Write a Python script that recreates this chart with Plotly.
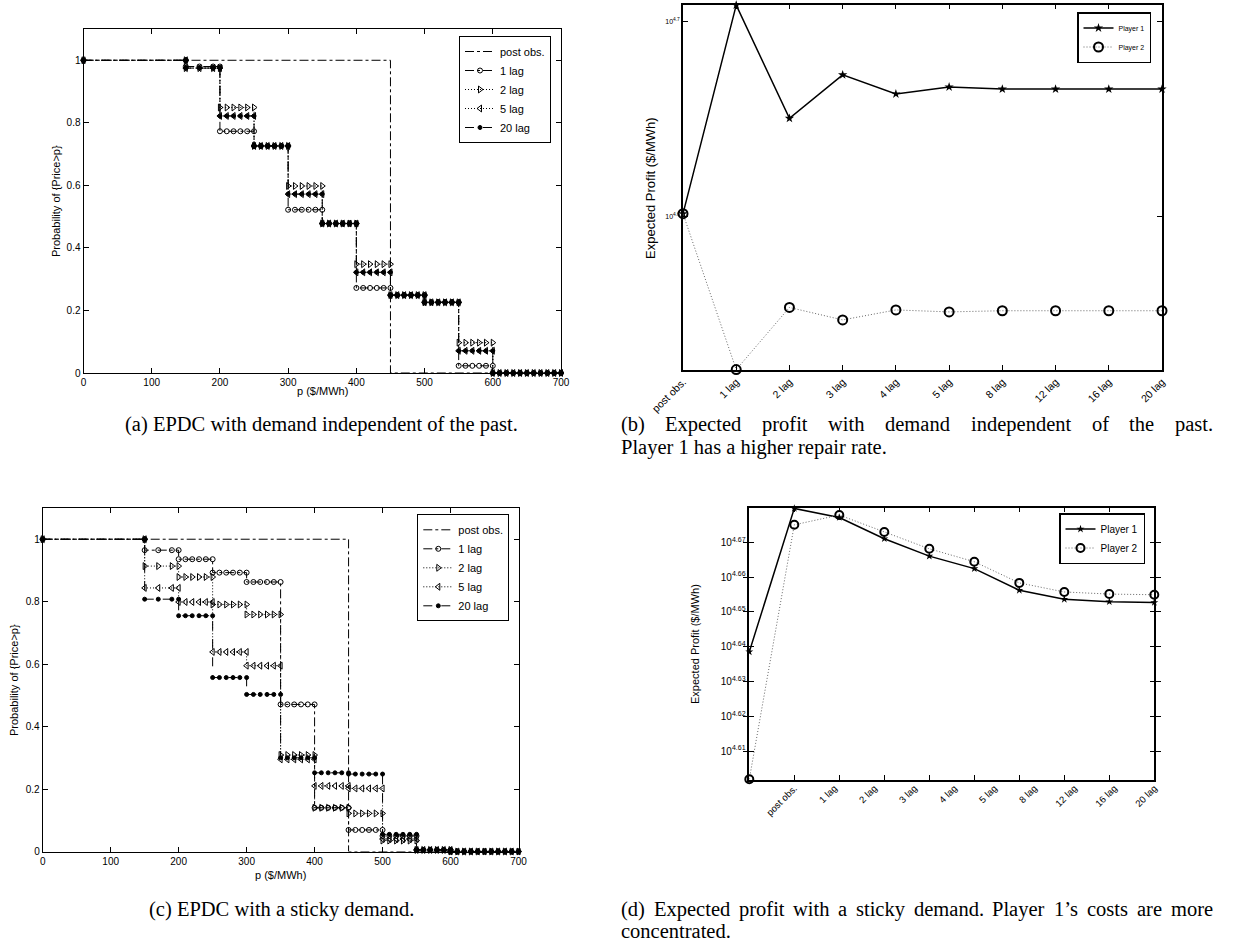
import plotly.graph_objects as go
import numpy as np

# ---------------- data ----------------
price_breaks = [0, 150, 200, 250, 300, 350, 400, 450, 500, 550, 600, 700]
series_names = ["1 lag", "2 lag", "5 lag", "20 lag"]

post_obs_breaks = [0, 450, 700]
post_obs_levels = [1, 0]

# panel (a): demand independent of the past (level on each price interval)
a_1lag = [1, 0.980, 0.773, 0.726, 0.522, 0.478, 0.272, 0.249, 0.226, 0.023, 0]
a_2lag = [1, 0.975, 0.849, 0.726, 0.598, 0.478, 0.348, 0.249, 0.226, 0.097, 0]
a_5lag = [1, 0.975, 0.822, 0.726, 0.572, 0.478, 0.322, 0.249, 0.226, 0.071, 0]
a_20lag = [1, 0.975, 0.822, 0.726, 0.572, 0.478, 0.322, 0.249, 0.226, 0.071, 0]

# panel (c): sticky demand
c_1lag = [1, 0.965, 0.936, 0.893, 0.863, 0.471, 0.140, 0.069, 0.050, 0.005, 0]
c_2lag = [1, 0.914, 0.879, 0.791, 0.759, 0.309, 0.140, 0.122, 0.035, 0.005, 0]
c_5lag = [1, 0.844, 0.799, 0.639, 0.595, 0.295, 0.210, 0.202, 0.040, 0.005, 0]
c_20lag = [1, 0.808, 0.755, 0.557, 0.503, 0.300, 0.252, 0.248, 0.055, 0.005, 0]

lag_labels = ["post obs.", "1 lag", "2 lag", "3 lag", "4 lag", "5 lag",
              "8 lag", "12 lag", "16 lag", "20 lag"]

# panel (b): expected profit ($/MWh), demand independent of the past
b_player1 = [39949, 51109, 44710, 47065, 46015, 46399, 46281, 46281, 46281, 46281]
b_player2 = [39949, 33228, 35760, 35237, 35654, 35572, 35621, 35621, 35621, 35621]
b_ticks_exp = [4.6, 4.7]

# panel (d): expected profit ($/MWh), sticky demand
d_player1 = [43501, 47831, 47545, 46882, 46345, 45963, 45311, 45041, 44968, 44947]
d_player2 = [39985, 47315, 47622, 47088, 46570, 46174, 45531, 45259, 45196, 45176]
d_ticks_exp = [4.61, 4.62, 4.63, 4.64, 4.65, 4.66, 4.67]

captions = {
    "a": "(a) EPDC with demand independent of the past.",
    "b1": "(b) Expected profit with demand independent of the past.",
    "b2": "Player 1 has a higher repair rate.",
    "c": "(c) EPDC with a sticky demand.",
    "d1": "(d) Expected profit with a sticky demand. Player 1\u2019s costs are more",
    "d2": "concentrated.",
}

# ---------------- helpers ----------------
W, H = 1233, 944


def px_x(v):
    return v / W


def px_y(v):
    return 1 - v / H


def interval_points(lo, hi):
    if lo == 0 and hi == 150:
        return [0, 150]
    if lo == 150 and hi == 200:
        return [150, 170, 190, 200]
    return list(np.arange(lo, hi + 0.1, 10))


def step_xy(breaks, levels):
    xs, ys = [], []
    for i, lev in enumerate(levels):
        pts = interval_points(breaks[i], breaks[i + 1])
        xs += pts
        ys += [lev] * len(pts)
    return xs, ys


def post_xy(breaks, levels):
    xs, ys = [], []
    for i, lev in enumerate(levels):
        xs += [breaks[i], breaks[i + 1]]
        ys += [lev, lev]
    return xs, ys


FONT = "Liberation Sans, Arial, sans-serif"
SERIF = "Liberation Serif, Times New Roman, serif"
DOT = "1px,2px"

styles = {
    "1 lag": dict(dash="dashdot", symbol="circle-open", size=5),
    "2 lag": dict(dash=DOT, symbol="triangle-right-open", size=6),
    "5 lag": dict(dash=DOT, symbol="triangle-left-open", size=6),
    "20 lag": dict(dash="dash", symbol="circle", size=4),
}

fig = go.Figure()


def add_epdc(xref, yref, legend, data):
    px_, py_ = post_xy(post_obs_breaks, post_obs_levels)
    fig.add_trace(go.Scatter(x=px_, y=py_, mode="lines", name="post obs.",
                             line=dict(color="black", width=1, dash="dashdot"),
                             xaxis=xref, yaxis=yref, legend=legend, cliponaxis=False))
    for name, lv in zip(series_names, data):
        st = styles[name]
        xs, ys = step_xy(price_breaks, lv)
        fig.add_trace(go.Scatter(
            x=xs, y=ys, mode="lines+markers", name=name,
            line=dict(color="black", width=1, dash=st["dash"]),
            marker=dict(symbol=st["symbol"], size=st["size"], color="black",
                        line=dict(color="black", width=1)),
            xaxis=xref, yaxis=yref, legend=legend, cliponaxis=False))


add_epdc("x", "y", "legend", [a_1lag, a_2lag, a_5lag, a_20lag])
add_epdc("x3", "y3", "legend3", [c_1lag, c_2lag, c_5lag, c_20lag])


def add_profit(xref, yref, legend, p1, p2, msize2, p1size):
    xs = list(range(len(p1)))
    fig.add_trace(go.Scatter(
        x=xs, y=p1, mode="lines+markers", name="Player 1",
        line=dict(color="black", width=1.5),
        marker=dict(symbol="star", size=p1size, color="black"),
        xaxis=xref, yaxis=yref, legend=legend, cliponaxis=False))
    fig.add_trace(go.Scatter(
        x=xs, y=p2, mode="lines+markers", name="Player 2",
        line=dict(color="#666666", width=1, dash=DOT),
        marker=dict(symbol="circle-open", size=msize2, color="black",
                    line=dict(color="black", width=2)),
        xaxis=xref, yaxis=yref, legend=legend, cliponaxis=False))


add_profit("x2", "y2", "legend2", b_player1, b_player2, 9, 7)
add_profit("x4", "y4", "legend4", d_player1, d_player2, 8, 6)

# invisible carrier so the shifted label axis of panel (d) is drawn
fig.add_trace(go.Scatter(x=[0, len(lag_labels) - 1], y=[min(d_player2)] * 2, mode="none",
                         xaxis="x5", yaxis="y4", showlegend=False, hoverinfo="skip"))

frame = dict(showline=True, linecolor="black", linewidth=1, mirror="allticks",
             ticks="inside", ticklen=5, tickcolor="black", showgrid=False,
             zeroline=False, automargin=False,
             tickfont=dict(family=FONT, size=10, color="black"))

b_all = b_player1 + b_player2
d_all = d_player1 + d_player2
n_lab = len(lag_labels)
EPS = 2e-4  # keep end points (sitting on the frame) inside the range

fig.update_layout(
    template="none",
    width=W, height=H, margin=dict(l=0, r=0, t=0, b=0, autoexpand=False),
    paper_bgcolor="white", plot_bgcolor="white",
    font=dict(family=FONT, color="black"),
    xaxis=dict(frame, domain=[px_x(83.5), px_x(561)], range=[0, 700],
               tickvals=list(range(0, 701, 100)), anchor="y"),
    yaxis=dict(frame, domain=[px_y(373), px_y(29)], range=[0, 1.1],
               tickvals=[0, 0.2, 0.4, 0.6, 0.8, 1],
               ticktext=["0", "0.2", "0.4", "0.6", "0.8", "1"], anchor="x"),
    xaxis2=dict(frame, domain=[px_x(683), px_x(1162)], range=[0, n_lab - 1],
                tickvals=list(range(n_lab)), ticktext=lag_labels,
                tickangle=-45, anchor="y2", linewidth=1.5,
                tickfont=dict(family=FONT, size=10.5, color="black")),
    yaxis2=dict(frame, type="log", domain=[px_y(370), px_y(4.7)],
                range=[np.log10(min(b_all)) - EPS, np.log10(max(b_all)) + EPS],
                tickvals=[10 ** e for e in b_ticks_exp],
                ticktext=["10<sup>%g</sup>" % e for e in b_ticks_exp],
                tickfont=dict(family=FONT, size=7, color="black"),
                anchor="x2", linewidth=1.5),
    xaxis3=dict(frame, domain=[px_x(42.7), px_x(518.5)], range=[0, 700],
                tickvals=list(range(0, 701, 100)), anchor="y3"),
    yaxis3=dict(frame, domain=[px_y(851.5), px_y(508)], range=[0, 1.1],
                tickvals=[0, 0.2, 0.4, 0.6, 0.8, 1],
                ticktext=["0", "0.2", "0.4", "0.6", "0.8", "1"], anchor="x3"),
    xaxis4=dict(frame, domain=[px_x(749.3), px_x(1154.3)], range=[0, n_lab - 1],
                tickvals=list(range(n_lab)), showticklabels=False,
                anchor="y4", linewidth=1.5),
    xaxis5=dict(overlaying="x4", anchor="y4", range=[0, n_lab - 1],
                showline=False, showgrid=False, zeroline=False, ticks="",
                automargin=False,
                tickvals=[1 + i * (n_lab - 2) / (n_lab - 1) for i in range(n_lab)],
                ticktext=lag_labels, tickangle=-45, side="bottom",
                tickfont=dict(family=FONT, size=9.5, color="black")),
    yaxis4=dict(frame, type="log", domain=[px_y(780), px_y(507.7)],
                range=[np.log10(min(d_all)) - EPS, np.log10(max(d_all)) + EPS],
                tickvals=[10 ** e for e in d_ticks_exp],
                ticktext=["10<sup>%g</sup>" % e for e in d_ticks_exp],
                tickfont=dict(family=FONT, size=10, color="black"),
                anchor="x4", linewidth=1.5),
    showlegend=True,
    legend=dict(x=px_x(551), y=px_y(36), xanchor="right", yanchor="top",
                bordercolor="black", borderwidth=1, bgcolor="white",
                font=dict(family=FONT, size=11), itemwidth=30, tracegroupgap=0),
    legend2=dict(x=px_x(1151), y=px_y(12), xanchor="right", yanchor="top",
                 bordercolor="black", borderwidth=1.5, bgcolor="white",
                 font=dict(family=FONT, size=7), itemwidth=30),
    legend3=dict(x=px_x(509.3), y=px_y(514.3), xanchor="right", yanchor="top",
                 bordercolor="black", borderwidth=1, bgcolor="white",
                 font=dict(family=FONT, size=11), itemwidth=30),
    legend4=dict(x=px_x(1145), y=px_y(513), xanchor="right", yanchor="top",
                 bordercolor="black", borderwidth=1.5, bgcolor="white",
                 font=dict(family=FONT, size=10), itemwidth=30),
)

# ---------------- text ----------------
ann = []
ann.append(dict(text="Probability of {Price>p}", x=px_x(56), y=px_y(201), textangle=-90,
                font=dict(family=FONT, size=11)))
ann.append(dict(text="p ($/MWh)", x=px_x(322), y=px_y(391), font=dict(family=FONT, size=11)))
ann.append(dict(text="Probability of {Price>p}", x=px_x(14), y=px_y(680), textangle=-90,
                font=dict(family=FONT, size=11)))
ann.append(dict(text="p ($/MWh)", x=px_x(280), y=px_y(875), font=dict(family=FONT, size=11)))
ann.append(dict(text="Expected Profit ($/MWh)", x=px_x(650), y=px_y(188), textangle=-90,
                font=dict(family=FONT, size=13)))
ann.append(dict(text="Expected Profit ($/MWh)", x=px_x(695), y=px_y(644), textangle=-90,
                font=dict(family=FONT, size=11)))

CAP = 20.5
TIMES_W = {' ': 250, '(': 333, ')': 333, '.': 250, '\u2019': 333, '1': 500,
           'a': 444, 'b': 500, 'c': 444, 'd': 500, 'e': 444, 'f': 333, 'g': 500,
           'h': 500, 'i': 278, 'k': 500, 'l': 278, 'm': 778, 'n': 500, 'o': 500,
           'p': 500, 'r': 333, 's': 389, 't': 278, 'u': 500, 'w': 722, 'x': 500,
           'y': 500, 'E': 611, 'P': 556, 'C': 667, 'D': 722}


def text_w(s, size):
    return sum(TIMES_W.get(ch, 500) for ch in s) / 1000.0 * size


def justified(line, left, right, ypx, size):
    words = line.split(" ")
    widths = [text_w(w, size) for w in words]
    gap = (right - left - sum(widths)) / (len(words) - 1)
    x = left
    out = []
    for w, wd in zip(words, widths):
        out.append(dict(text=w, x=px_x(x), y=px_y(ypx), xanchor="left",
                        font=dict(family=SERIF, size=size), borderpad=0))
        x += wd + gap
    return out


ann.append(dict(text=captions["a"], x=px_x(321), y=px_y(424), font=dict(family=SERIF, size=CAP)))
ann += justified(captions["b1"], 620, 1212, 424, CAP)
ann.append(dict(text=captions["b2"], x=px_x(620), y=px_y(447), xanchor="left",
                borderpad=0, font=dict(family=SERIF, size=CAP)))
ann.append(dict(text=captions["c"], x=px_x(281), y=px_y(909), font=dict(family=SERIF, size=CAP)))
ann += justified(captions["d1"], 620, 1212, 909, CAP)
ann.append(dict(text=captions["d2"], x=px_x(620), y=px_y(931), xanchor="left",
                borderpad=0, font=dict(family=SERIF, size=CAP)))
for a in ann:
    a.setdefault("xanchor", "center")
    a.update(xref="paper", yref="paper", yanchor="middle", showarrow=False)
fig.update_layout(annotations=ann)

fig.write_html("out.html", config={"displayModeBar": False},
               post_script="document.body.style.margin='0';"
                           "document.body.style.overflow='hidden';")
